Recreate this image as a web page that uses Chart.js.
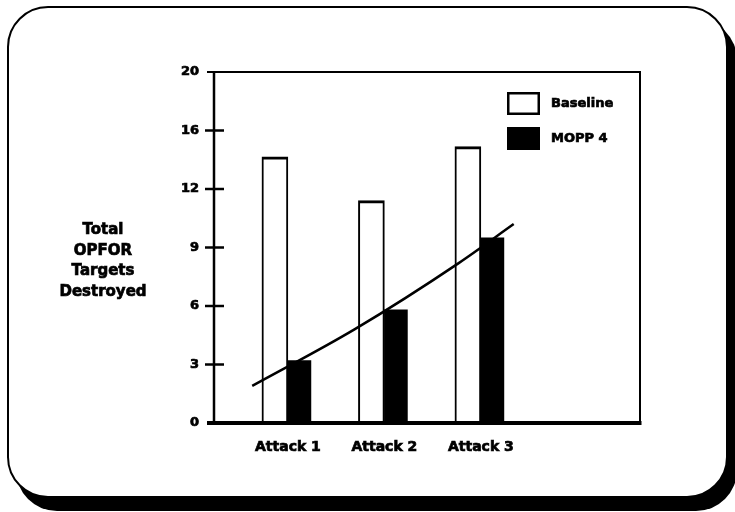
<!DOCTYPE html>
<html>
<head>
<meta charset="utf-8">
<script src="https://cdn.jsdelivr.net/npm/chart.js@4.4.1/dist/chart.umd.min.js"></script>
<style>
  html, body { margin: 0; padding: 0; background: #fff; }
  #wrap { position: relative; width: 735px; height: 512px; overflow: hidden; }
  #frame {
    position: absolute; left: 7px; top: 6px; width: 717px; height: 488px;
    border: 2px solid #000; border-radius: 41px; background: #fff;
    box-shadow: 9px 13px 0 #000;
  }
  #box { position: absolute; left: 0; top: 0; width: 735px; height: 512px; }
</style>
</head>
<body>
<div id="wrap">
  <div id="frame"></div>
  <div id="box"><canvas id="chart"></canvas></div>
</div>
<script>
// --- Data ---
const attacks = ['Attack 1', 'Attack 2', 'Attack 3'];
const baseline = [14.2, 11.4, 14.9];
const mopp4 = [3.2, 5.8, 9.5];
const yTicks = [0, 3, 6, 9, 12, 16, 20];          // метки оси Y (шаг неравномерный)
const trendX = [0.63, 1.69, 2.77, 3.34];          // линия тренда, в единицах оси X
const trendY = [1.9, 4.8, 8.2, 10.2];
const yTitle = ['Total', 'OPFOR', 'Targets', 'Destroyed'];

const FONT = '"DejaVu Sans", "Liberation Sans", Arial, sans-serif';
const STROKE = 0.7;   // лёгкая обводка, чтобы текст был жирнее, как на скане

// значение -> позиция на оси с равными интервалами между метками
function toSlot(v) {
  for (let i = 1; i < yTicks.length; i++) {
    if (v <= yTicks[i]) return i - 1 + (v - yTicks[i - 1]) / (yTicks[i] - yTicks[i - 1]);
  }
  return yTicks.length - 1;
}

function boldText(ctx, text, x, y) {
  ctx.lineWidth = STROKE;
  ctx.strokeText(text, x, y);
  ctx.fillText(text, x, y);
}

// --- Рамка осей, засечки, легенда и подпись оси Y ---
const framePlugin = {
  id: 'frame',
  afterDraw(chart) {
    const { ctx, chartArea: a, scales: { y } } = chart;
    ctx.save();
    ctx.strokeStyle = '#000';
    ctx.fillStyle = '#000';
    ctx.lineJoin = 'miter';

    ctx.lineWidth = 2;
    ctx.beginPath();
    ctx.moveTo(a.left - 7, a.top);
    ctx.lineTo(a.right, a.top);
    ctx.lineTo(a.right, a.bottom);
    ctx.stroke();

    ctx.lineWidth = 2.5;
    ctx.beginPath();
    ctx.moveTo(a.left, a.top);
    ctx.lineTo(a.left, a.bottom);
    ctx.stroke();

    y.ticks.forEach((t, i) => {
      if (i === 0 || i === y.ticks.length - 1) return;
      const py = y.getPixelForValue(t.value);
      ctx.beginPath();
      ctx.moveTo(a.left - 9, py);
      ctx.lineTo(a.left + 10, py);
      ctx.stroke();
    });

    ctx.lineWidth = 4;
    ctx.beginPath();
    ctx.moveTo(a.left - 7, a.bottom);
    ctx.lineTo(a.right + 1.5, a.bottom);
    ctx.stroke();

    // легенда
    ctx.font = 'bold 13px ' + FONT;
    ctx.textAlign = 'left';
    ctx.textBaseline = 'middle';
    chart.data.datasets.filter(d => d.type !== 'line').forEach((ds, i) => {
      const bx = a.right - 133, by = a.top + 20 + i * 35;
      ctx.fillStyle = ds.backgroundColor;
      ctx.fillRect(bx, by, 33, 23);
      ctx.lineWidth = 2.5;
      ctx.strokeRect(bx + 1.25, by + 1.25, 30.5, 20.5);
      ctx.fillStyle = '#000';
      boldText(ctx, ds.label, bx + 44, by + 12);
    });

    // подпись оси Y
    ctx.font = 'bold 15px ' + FONT;
    ctx.textAlign = 'center';
    yTitle.forEach((line, i) => boldText(ctx, line, 103, 230 + i * 20.7));
    ctx.restore();
  }
};

new Chart(document.getElementById('chart'), {
  type: 'bar',
  data: {
    datasets: [
      {
        label: 'Baseline',
        data: baseline.map((v, i) => ({ x: i + 1, y: toSlot(v) })),
        backgroundColor: '#ffffff',
        borderColor: '#000',
        borderWidth: { top: 3, left: 2, right: 2, bottom: 0 },
        barThickness: 26,
        order: 2
      },
      {
        label: 'MOPP 4',
        data: mopp4.map((v, i) => ({ x: i + 1, y: toSlot(v) })),
        backgroundColor: '#000000',
        borderWidth: 0,
        barThickness: 23,
        order: 2
      },
      {
        type: 'line',
        label: 'Trend',
        data: trendX.map((x, i) => ({ x, y: toSlot(trendY[i]) })),
        borderColor: '#000',
        borderWidth: 2.5,
        pointRadius: 0,
        cubicInterpolationMode: 'monotone',
        fill: false,
        order: 1
      }
    ]
  },
  options: {
    responsive: true,
    maintainAspectRatio: false,
    animation: false,
    layout: { padding: { top: 72, right: 95, left: 0, bottom: 0 } },
    plugins: {
      legend: { display: false },
      tooltip: {
        filter: (c) => c.dataset.type !== 'line',
        callbacks: {
          title: (items) => attacks[items[0].parsed.x - 1],
          label: (c) => {
            const arr = c.datasetIndex === 0 ? baseline : mopp4;
            return `${c.dataset.label}: ${arr[c.dataIndex]}`;
          }
        }
      }
    },
    scales: {
      x: {
        type: 'linear',
        offset: false,
        min: 0.234,
        max: 4.649,
        grid: { display: false, drawTicks: false },
        border: { display: false },
        afterBuildTicks: (s) => { s.ticks = attacks.map((_, i) => ({ value: i + 1 })); },
        afterFit: (s) => { s.height = 89; },
        ticks: {
          color: '#000',
          padding: 16,
          textStrokeColor: '#000',
          textStrokeWidth: STROKE,
          font: { family: FONT, size: 14, weight: 'bold' },
          callback: (v) => attacks[v - 1] || ''
        }
      },
      y: {
        type: 'linear',
        min: 0,
        max: yTicks.length - 1,
        grid: { display: false, drawTicks: false },
        border: { display: false },
        afterFit: (s) => { s.width = 214; },
        ticks: {
          stepSize: 1,
          color: '#000',
          padding: 15,
          textStrokeColor: '#000',
          textStrokeWidth: STROKE,
          font: { family: FONT, size: 13, weight: 'bold' },
          callback: (v) => yTicks[v] !== undefined ? String(yTicks[v]) : ''
        }
      }
    }
  },
  plugins: [framePlugin]
});
</script>
</body>
</html>
